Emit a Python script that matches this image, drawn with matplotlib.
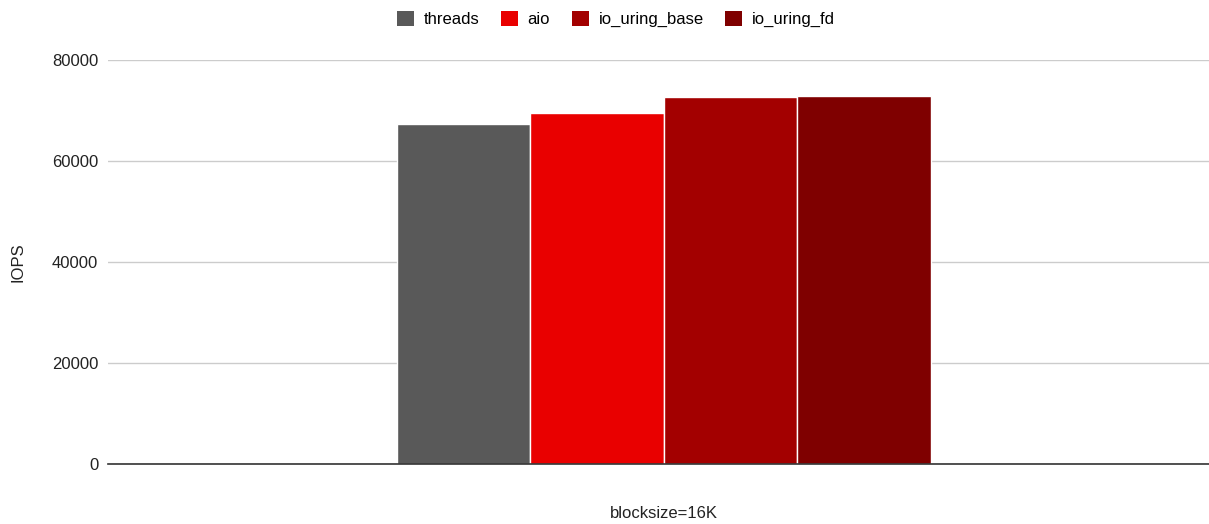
import numpy as np
import matplotlib.pyplot as plt

plt.rcParams['font.family'] = ['Liberation Sans', 'DejaVu Sans']

series = ['threads', 'aio', 'io_uring_base', 'io_uring_fd']
iops = [67300, 69500, 72600, 72800]
colors = ['#595959', '#e90000', '#a30000', '#7f0000']
category = 'blocksize=16K'

fig = plt.figure(figsize=(12.09, 5.24), dpi=100)
ax = fig.add_axes([108 / 1209, 1 - 464 / 524, 1101 / 1209, 404 / 524])

w = 0.25
for i, (name, val, c) in enumerate(zip(series, iops, colors)):
    ax.bar(-0.375 + i * w, val, width=w, color=c, edgecolor='white',
           linewidth=1, label=name, zorder=3)

ax.set_xlim(-1.041, 1.021)
ax.set_ylim(0, 80000)
ax.set_yticks([0, 20000, 40000, 60000, 80000])
ax.set_xticks([])
ax.tick_params(axis='y', length=0, labelsize=12, pad=7, colors='#222222')
ax.grid(axis='y', color='#cccccc', linewidth=1, zorder=0)
for s in ['top', 'right', 'left']:
    ax.spines[s].set_visible(False)
ax.spines['bottom'].set_color('#333333')
ax.spines['bottom'].set_linewidth(1.2)
ax.spines['bottom'].set_zorder(4)

fig.text(18 / 1209, 1 - 262 / 524, 'IOPS', rotation=90, ha='center',
         va='center', fontsize=12, color='#222222')
fig.text(664 / 1209, 1 - 514 / 524, category, ha='center', va='center',
         fontsize=12, color='#222222')

leg = fig.legend(loc='center', bbox_to_anchor=(616 / 1209, 1 - 19 / 524),
                 ncol=4, frameon=False, fontsize=12, handlelength=1.0,
                 handleheight=1.0, handletextpad=0.6, columnspacing=1.3)
for h in leg.legend_handles:
    h.set_edgecolor('none')

fig.savefig('out.png', dpi=100)
